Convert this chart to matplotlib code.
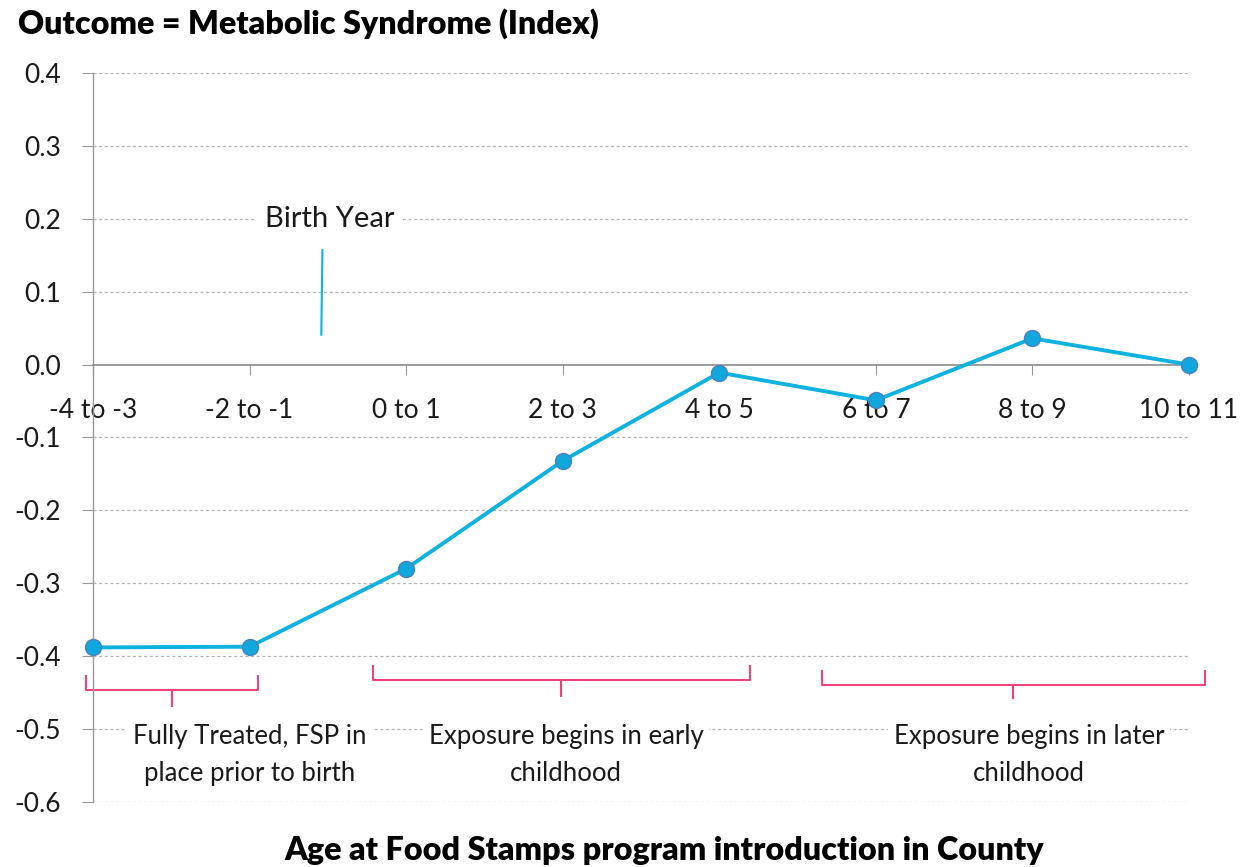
import numpy as np
import matplotlib.pyplot as plt

plt.rcParams['font.family'] = ['Lato', 'DejaVu Sans']

# data
groups = ['-4 to -3', '-2 to -1', '0 to 1', '2 to 3', '4 to 5', '6 to 7', '8 to 9', '10 to 11']
effect = [-0.388, -0.387, -0.280, -0.132, -0.011, -0.049, 0.036, 0.0]
yticks = [0.4, 0.3, 0.2, 0.1, 0.0, -0.1, -0.2, -0.3, -0.4, -0.5, -0.6]

# bracket annotations: (left, right, top, mid, tip, label, text x)
brackets = [(-0.045, 1.054, -0.427, -0.447, -0.468, 'Fully Treated, FSP in\nplace prior to birth', 1.0),
            (1.788, 4.195, -0.413, -0.433, -0.454, 'Exposure begins in early\nchildhood', 3.02),
            (4.655, 7.10, -0.420, -0.439, -0.458, 'Exposure begins in later\nchildhood', 5.98)]

line_col = '#0db2e0'
pink = '#f0457a'

fig = plt.figure(figsize=(12.44, 8.67), dpi=100)
ax = fig.add_axes([0.0748, 0.075, 0.8810, 0.8408])

x = np.arange(len(groups))
for t in yticks:
    if t != 0.0:
        ax.axhline(t, color='#b5b5b5', lw=0.9, ls=(0, (2.5, 2)), zorder=0)

ax.plot(x, effect, color=line_col, lw=2.8, marker='o', markersize=11.5,
        markerfacecolor='#10a8dc', markeredgecolor='#4a7fc0', markeredgewidth=1.0,
        zorder=3, clip_on=False)

ax.set_xlim(0, 7)
ax.set_ylim(-0.6, 0.4)

ax.spines['top'].set_visible(False)
ax.spines['right'].set_visible(False)
ax.spines['bottom'].set_position(('data', 0))
ax.spines['bottom'].set_color('#8c8c8c')
ax.spines['left'].set_color('#999999')
ax.spines['bottom'].set_linewidth(1.2)
ax.spines['left'].set_linewidth(1.0)

ax.set_xticks(x)
ax.set_xticklabels(groups, fontsize=19, color='#1a1a1a')
ax.tick_params(axis='x', length=7, color='#999999', pad=17)
ax.set_yticks(yticks)
ax.set_yticklabels(['%.1f' % t for t in yticks], fontsize=19, color='#1a1a1a')
ax.tick_params(axis='y', length=8, color='#999999', pad=15)

# birth year marker
ax.plot([1.465, 1.458], [0.157, 0.041], color=line_col, lw=1.5, zorder=2)
ax.text(1.51, 0.2, 'Birth Year', fontsize=21, ha='center', va='center', color='#1a1a1a',
        bbox=dict(facecolor='white', edgecolor='none', pad=6), zorder=4)

for left, right, ytop, ymid, ybot, label, tx in brackets:
    mid = (left + right) / 2
    ax.plot([left, left, right, right], [ytop, ymid, ymid, ytop], color=pink, lw=1.5,
            clip_on=False, zorder=2)
    ax.plot([mid, mid], [ymid, ybot], color=pink, lw=1.5, clip_on=False, zorder=2)
    ax.text(tx, -0.536, label, fontsize=18.5, ha='center', va='center', color='#1a1a1a',
            linespacing=1.6, bbox=dict(facecolor='white', edgecolor='none', pad=4), zorder=4)

fig.text(0.0145, 0.973, 'Outcome = Metabolic Syndrome (Index)', fontsize=23.2, fontweight='heavy',
         ha='left', va='center')
fig.text(0.534, 0.019, 'Age at Food Stamps program introduction in County', fontsize=23.2,
         fontweight='heavy', ha='center', va='center')

plt.savefig('out.png', dpi=100)
